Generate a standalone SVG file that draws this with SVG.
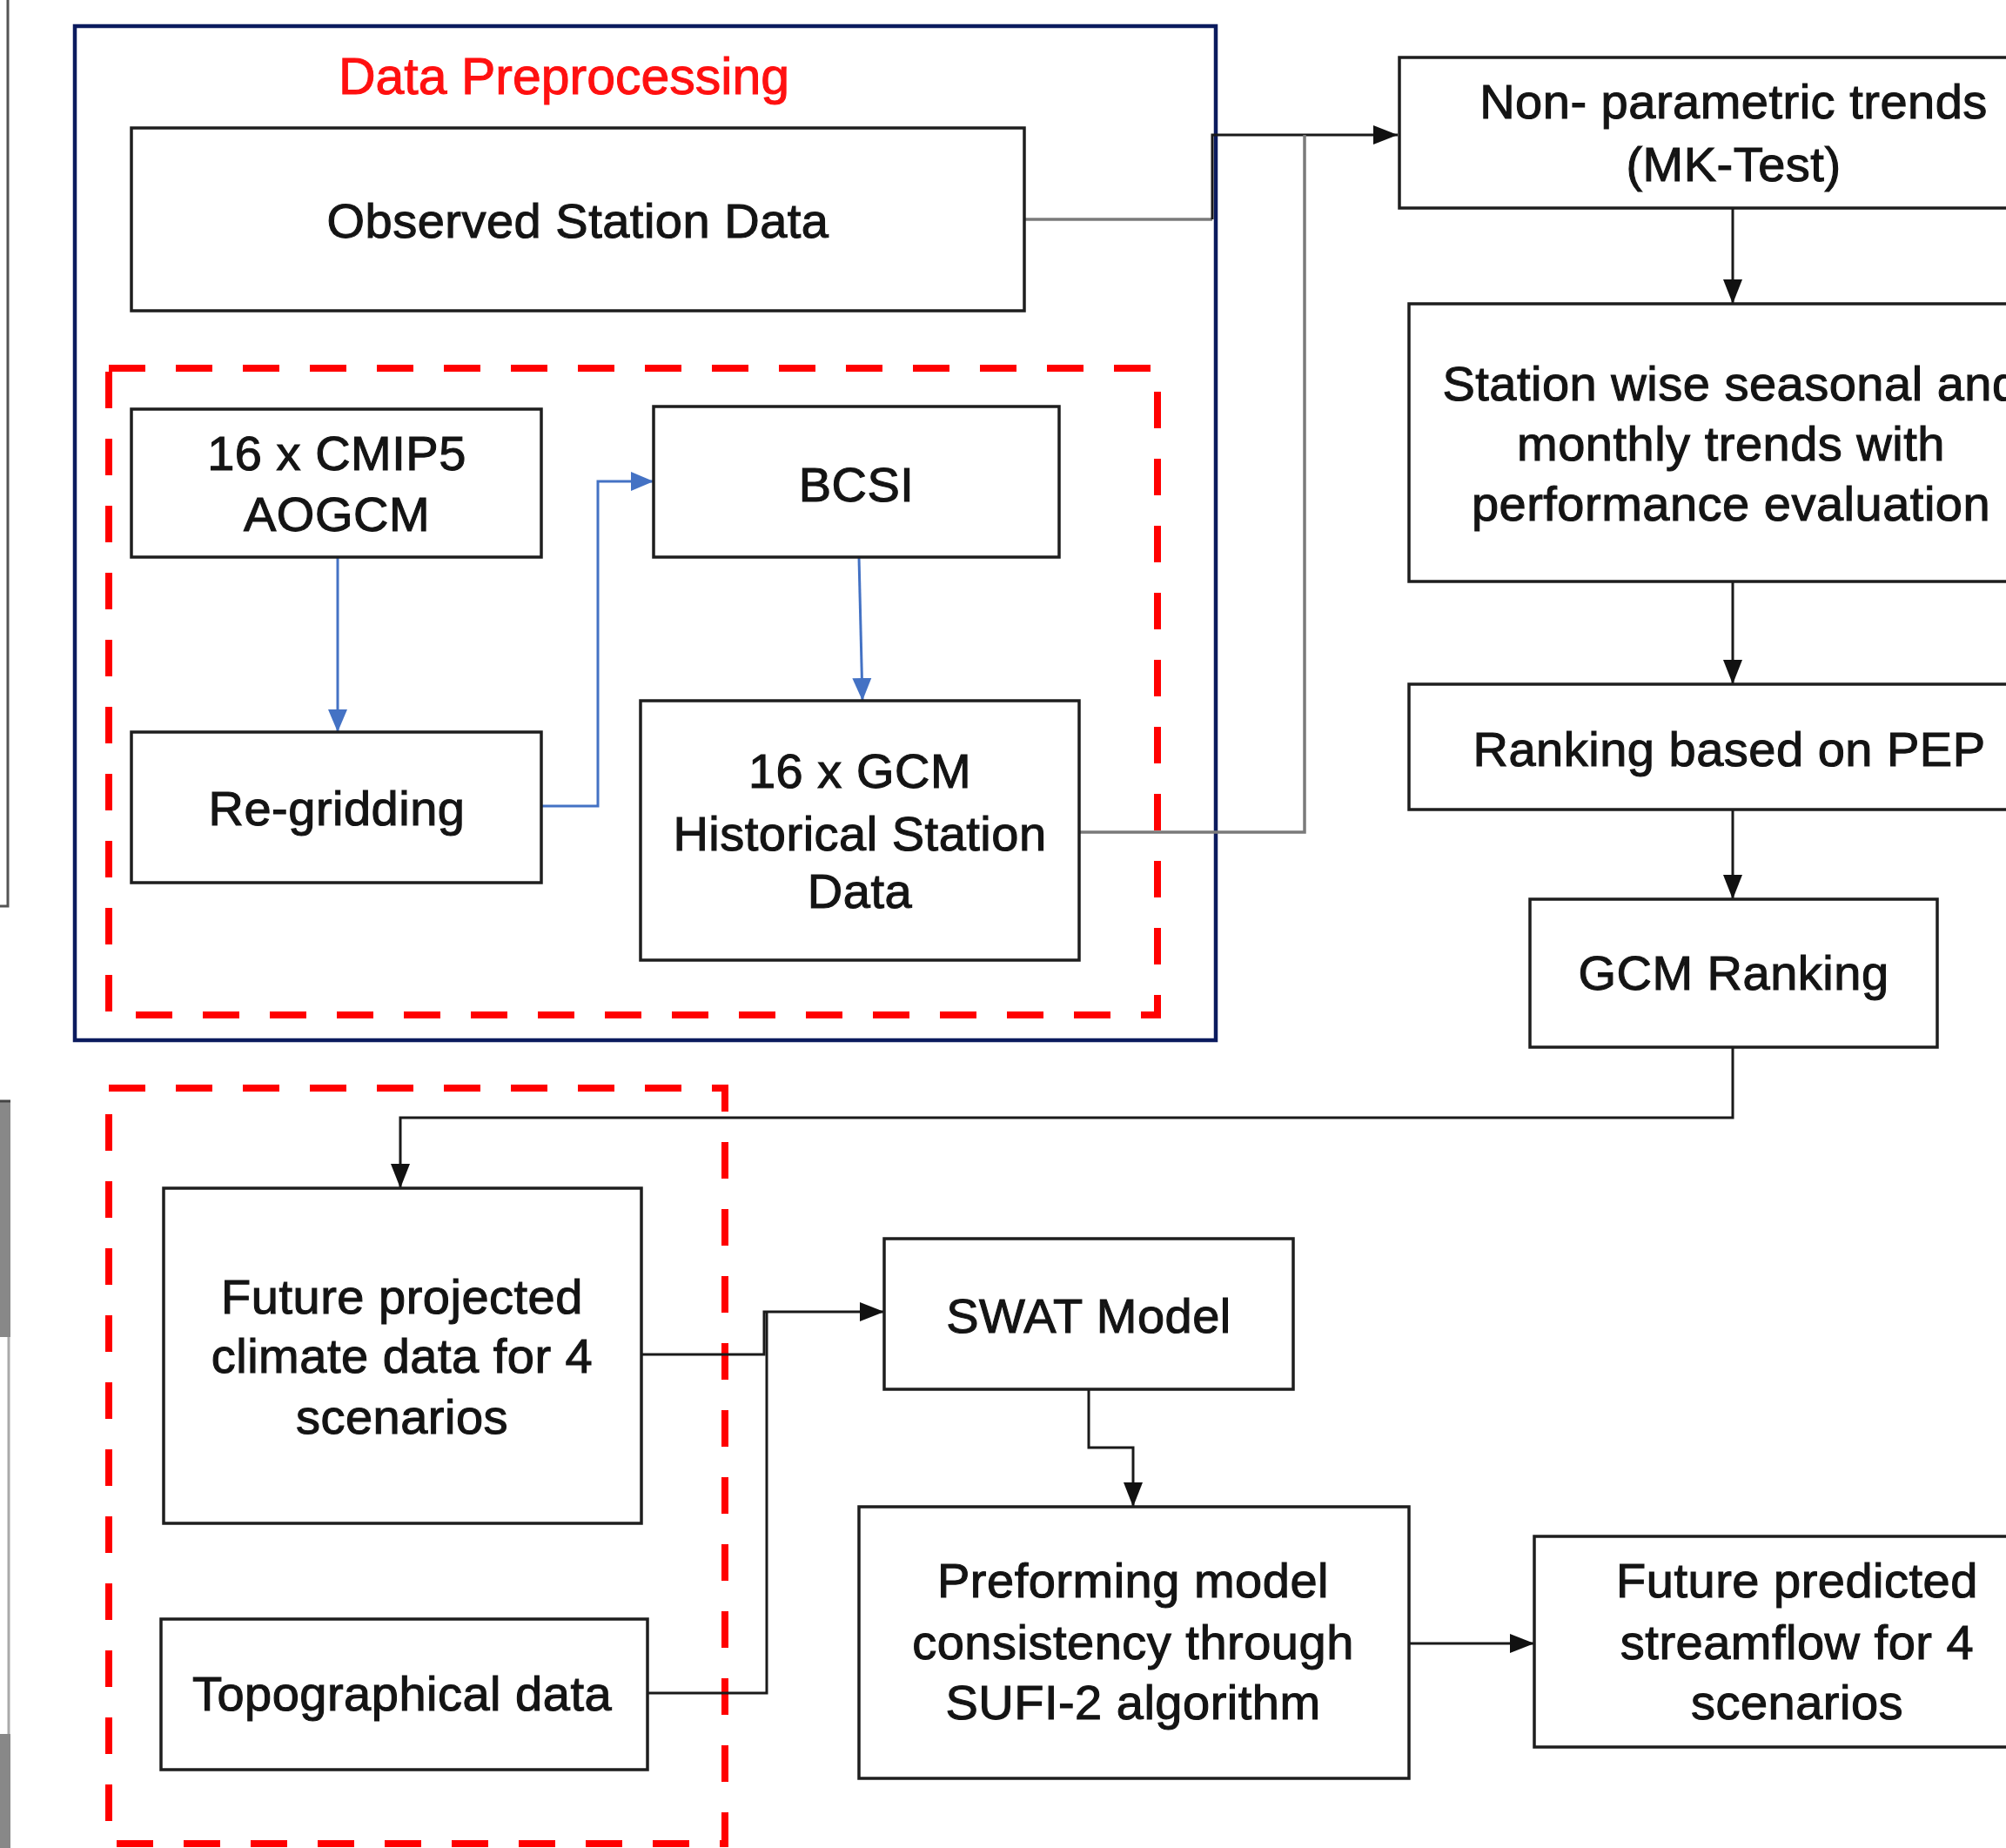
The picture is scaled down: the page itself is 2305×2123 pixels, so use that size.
<svg xmlns="http://www.w3.org/2000/svg" width="2305" height="2123" viewBox="0 0 2305 2123">
<defs>
<style>
.box{fill:#fff;stroke:#1e1e1e;stroke-width:3.5}
.t{font-family:"Liberation Sans",Arial,sans-serif;font-size:56px;fill:#141414;stroke:#141414;stroke-width:1.1;text-anchor:middle;letter-spacing:0.5px}
.title{font-family:"Liberation Sans",Arial,sans-serif;font-size:59px;fill:#ff1010;stroke:#ff1010;stroke-width:1;text-anchor:middle}
.dash{fill:none;stroke:#ff0000;stroke-width:8;stroke-dasharray:42 35}
.blk{fill:none;stroke:#1a1a1a;stroke-width:3}
.gry{fill:none;stroke:#7a7a7a;stroke-width:3.5}
.blu{fill:none;stroke:#4472c4;stroke-width:3}
</style>
<marker id="ak" markerUnits="userSpaceOnUse" viewBox="0 0 28 24" markerWidth="28" markerHeight="24" refX="28" refY="12" orient="auto">
<path d="M0,1 L28,12 L0,23 z" fill="#111"/>
</marker>
<marker id="ab" markerUnits="userSpaceOnUse" viewBox="0 0 26 24" markerWidth="26" markerHeight="24" refX="26" refY="12" orient="auto">
<path d="M0,1 L26,12 L0,23 z" fill="#4472c4"/>
</marker>
</defs>
<rect width="2305" height="2123" fill="#fff"/>

<g id="edge-fragments">
<path d="M0,1041 H9 V0" fill="none" stroke="#555" stroke-width="3"/>
<rect x="0" y="1264" width="12" height="272" fill="#888"/>
<line x1="0" y1="1265" x2="12" y2="1265" stroke="#444" stroke-width="3"/>
<line x1="10" y1="1536" x2="10" y2="1992" stroke="#aaa" stroke-width="3"/>
<rect x="0" y="1992" width="12" height="131" fill="#888"/>
</g>

<g id="group-preprocessing">
<rect x="86" y="30" width="1311" height="1165" fill="none" stroke="#0b1b5e" stroke-width="4.5"/>
<text class="title" x="648" y="108">Data Preprocessing</text>
</g>
<g id="group-gcm">
<rect class="dash" x="125" y="423" width="1205" height="743"/>
</g>
<g id="group-inputs">
<rect class="dash" x="125" y="1250" width="708" height="868"/>
</g>

<g id="connectors">
<path class="gry" d="M1177,252 H1393"/>
<path class="blk" d="M1393,252 V155 H1606" marker-end="url(#ak)"/>
<path class="gry" d="M1241,956 H1499 V155"/>
<path class="blu" d="M388,640 V841" marker-end="url(#ab)"/>
<path class="blu" d="M623,926 H687 V553 H751" marker-end="url(#ab)"/>
<path class="blu" d="M987,640 L991,805" marker-end="url(#ab)"/>
<path class="blk" d="M1991,239 V349" marker-end="url(#ak)"/>
<path class="blk" d="M1991,668 V786" marker-end="url(#ak)"/>
<path class="blk" d="M1991,930 V1033" marker-end="url(#ak)"/>
<path class="blk" d="M1991,1204 V1284 H460 V1365" marker-end="url(#ak)"/>
<path class="blk" d="M737,1556 H878 V1507 H1016" marker-end="url(#ak)"/>
<path class="blk" d="M744,1945 H881 V1507"/>
<path class="blk" d="M1251,1597 V1663 H1302 V1731" marker-end="url(#ak)"/>
<path class="blk" d="M1620,1888 H1763" marker-end="url(#ak)"/>
</g>

<g id="observed">
<rect class="box" x="151" y="147" width="1026" height="210"/>
<text class="t" x="664" y="273">Observed Station Data</text>
</g>
<g id="cmip5">
<rect class="box" x="151" y="470" width="471" height="170"/>
<text class="t" x="387" y="540">16 x CMIP5</text>
<text class="t" x="387" y="610">AOGCM</text>
</g>
<g id="bcsi">
<rect class="box" x="751" y="467" width="466" height="173"/>
<text class="t" x="984" y="576">BCSI</text>
</g>
<g id="regridding">
<rect class="box" x="151" y="841" width="471" height="173"/>
<text class="t" x="387" y="948">Re-gridding</text>
</g>
<g id="gcm-historical">
<rect class="box" x="736" y="805" width="504" height="298"/>
<text class="t" x="988" y="905">16 x GCM</text>
<text class="t" x="988" y="977">Historical Station</text>
<text class="t" x="988" y="1043">Data</text>
</g>
<g id="mk-test">
<rect class="box" x="1608" y="66" width="780" height="173"/>
<text class="t" x="1992" y="136">Non- parametric trends</text>
<text class="t" x="1992" y="208">(MK-Test)</text>
</g>
<g id="station-trends">
<rect class="box" x="1619" y="349" width="760" height="319"/>
<text class="t" x="1989" y="460">Station wise seasonal and</text>
<text class="t" x="1989" y="529">monthly trends with</text>
<text class="t" x="1989" y="598">performance evaluation</text>
</g>
<g id="ranking-pep">
<rect class="box" x="1619" y="786" width="760" height="144"/>
<text class="t" x="1987" y="880">Ranking based on PEP</text>
</g>
<g id="gcm-ranking">
<rect class="box" x="1758" y="1033" width="468" height="170"/>
<text class="t" x="1992" y="1137">GCM Ranking</text>
</g>
<g id="future-climate">
<rect class="box" x="188" y="1365" width="549" height="385"/>
<text class="t" x="462" y="1509">Future projected</text>
<text class="t" x="462" y="1577">climate data for 4</text>
<text class="t" x="462" y="1647">scenarios</text>
</g>
<g id="topographical">
<rect class="box" x="185" y="1860" width="559" height="173"/>
<text class="t" x="462" y="1965">Topographical data</text>
</g>
<g id="swat">
<rect class="box" x="1016" y="1423" width="470" height="173"/>
<text class="t" x="1251" y="1531">SWAT Model</text>
</g>
<g id="sufi2">
<rect class="box" x="987" y="1731" width="632" height="312"/>
<text class="t" x="1302" y="1835">Preforming model</text>
<text class="t" x="1302" y="1906">consistency through</text>
<text class="t" x="1302" y="1975">SUFI-2 algorithm</text>
</g>
<g id="future-streamflow">
<rect class="box" x="1763" y="1765" width="620" height="242"/>
<text class="t" x="2065" y="1835">Future predicted</text>
<text class="t" x="2065" y="1906">streamflow for 4</text>
<text class="t" x="2065" y="1975">scenarios</text>
</g>
</svg>
